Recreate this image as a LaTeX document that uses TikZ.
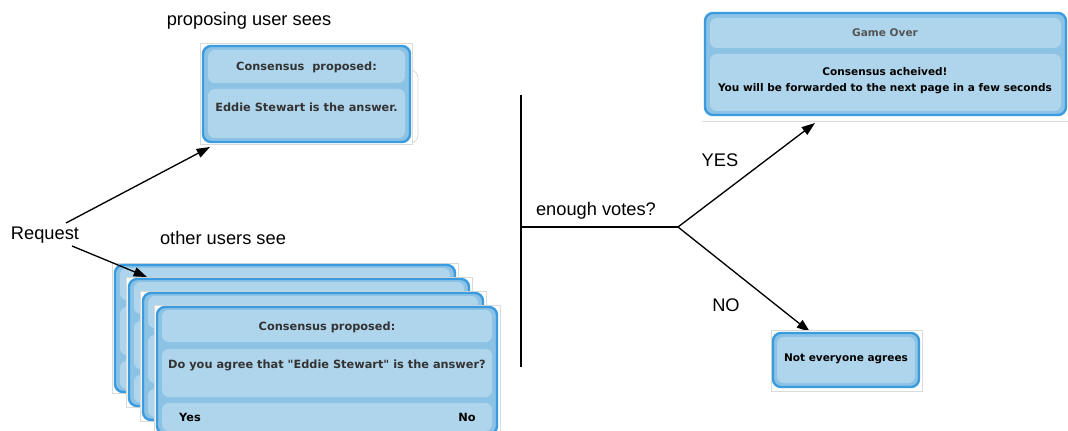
\documentclass[tikz,border=0pt]{standalone}
\usepackage{fontspec}
\setmainfont{Liberation Sans}
\newfontfamily\uifont{DejaVu Sans}
\usetikzlibrary{arrows.meta,calc}

\definecolor{frameblue}{HTML}{3A9BE0}
\definecolor{framefill}{HTML}{8CC2E3}
\definecolor{panelfill}{HTML}{AFD5EC}
\definecolor{uitext}{HTML}{333333}
\definecolor{uigrey}{HTML}{555555}
\definecolor{shotedge}{HTML}{DADADA}

\tikzset{
  uiframe/.style={draw=frameblue, line width=1.8pt, fill=framefill, rounded corners=6pt},
  uipanel/.style={fill=panelfill, rounded corners=5pt},
  shot/.style={draw=shotedge, line width=0.6pt, fill=white},
  uitxt/.style={font=\uifont\bfseries\fontsize{8.5}{11.5}\selectfont, text=uitext, inner sep=0pt, align=center},
  smalltxt/.style={uitxt, font=\uifont\bfseries\fontsize{7.9}{12}\selectfont},
  lbl/.style={font=\fontsize{13.7}{16}\selectfont, inner sep=0pt},
  flow/.style={line width=1pt, -{Triangle[length=10pt,width=7pt]}},
  plain/.style={line width=1pt},
}
\newcommand{\uiframebox}[4]{\draw[uiframe] (#1,#2) rectangle (#3,#4);}
\newcommand{\uipanelbox}[4]{\fill[uipanel] (#1,#2) rectangle (#3,#4);}

\begin{document}
\begin{tikzpicture}[x=0.75pt,y=-0.75pt]
\clip (0,0) rectangle (1068,431);
\fill[white] (0,0) rectangle (1068,431);

% ---- proposing user's view ----
\node[lbl] (propcap) at (249,21) {proposing user sees};
\draw[shot, rounded corners=6pt] (283,70) rectangle (418,143);
\draw[shot] (200,43) rectangle (412,144);
\uiframebox{203}{46}{410}{142}
\uipanelbox{208}{50}{405}{83}
\uipanelbox{208}{89}{405}{138}
\node[uitxt] (prophead) at (306.5,67) {Consensus\ \ proposed:};
\node[uitxt] (propbody) at (306.5,107) {Eddie Stewart is the answer.};

% ---- other users' views: three cards peeking out behind the front one ----
\node[lbl] (othercap) at (223,238) {other users see};
\foreach \k in {0,1,2}{
  \pgfmathsetmacro\L{115+14*\k}
  \pgfmathsetmacro\T{265+14*\k}
  \pgfmathsetmacro\R{\L+340}
  \pgfmathsetmacro\B{\T+127}
  \draw[shot] (\L-3,\T-2) rectangle (\R+3,\B+1);
  \uiframebox{\L}{\T}{\R}{\B}
  \uipanelbox{\L+5}{\T+3}{\R-5}{\T+35}
  \uipanelbox{\L+5}{\T+42}{\R-5}{\T+90}
  \uipanelbox{\L+5}{\T+96}{\R-5}{\B-3}
  % edge of the first letter of the question, the rest being covered
  \fill[uitext] (\L+10.5,\T+53) rectangle (\L+12.3,\T+63);
}

% front card
\draw[shot] (154,305) rectangle (500,435);
\uiframebox{157}{307}{497}{434}
\uipanelbox{162}{310}{492}{342}
\uipanelbox{162}{349}{492}{397}
\uipanelbox{162}{403}{492}{431}
\node[uitxt] (cardhead) at (327,327) {Consensus proposed:};
\node[uitxt] (cardbody) at (327,365) {Do you agree that "Eddie Stewart" is the answer?};
\node[uitxt, text=black] (cardyes) at (190,417) {Yes};
\node[uitxt, text=black] (cardno) at (467,417) {No};

% ---- request arrows ----
\node[lbl] (request) at (45,235) {Request};
\coordinate (reqA) at (66,223);
\coordinate (reqB) at (72,246);
\coordinate (propTip) at (210,147);
\coordinate (otherTip) at (147,277);
\draw[flow] (reqA) -- (propTip);
\draw[flow] (reqB) -- (otherTip);

% ---- vote decision ----
\coordinate (vtop) at (521,95);
\coordinate (vbot) at (521,367);
\coordinate (vmid) at (521,227);
\coordinate (fork) at (678,227);
\draw[plain] (vtop) -- (vbot);
\draw[plain] (vmid) -- (fork);
\node[lbl] (votes) at (596,211) {enough votes?};

\coordinate (yesTip) at (815,123);
\coordinate (noTip) at (810,332);
\draw[flow] (fork) -- (yesTip);
\draw[flow] (fork) -- (noTip);
\node[lbl] (yeslbl) at (720,160) {YES};
\node[lbl] (nolbl) at (726,305) {NO};

% ---- game over ----
\draw[shotedge, line width=0.6pt] (702,121) -- (1068,121);
\uiframebox{705}{13}{1066}{115}
\uipanelbox{710}{18}{1061}{48}
\uipanelbox{710}{54}{1061}{111}
\node[smalltxt, text=uigrey] (overhead) at (885,33) {Game Over};
\node[smalltxt, text=black] (overbody) at (885,81) {Consensus acheived!\\You will be forwarded to the next page in a few seconds};

% ---- not enough votes ----
\draw[shot] (771,330) rectangle (922,391);
\uiframebox{773}{333}{919}{387}
\uipanelbox{777}{337}{915}{383}
\node[smalltxt, text=black] (disagree) at (846,359) {Not everyone agrees};
\end{tikzpicture}
\end{document}
